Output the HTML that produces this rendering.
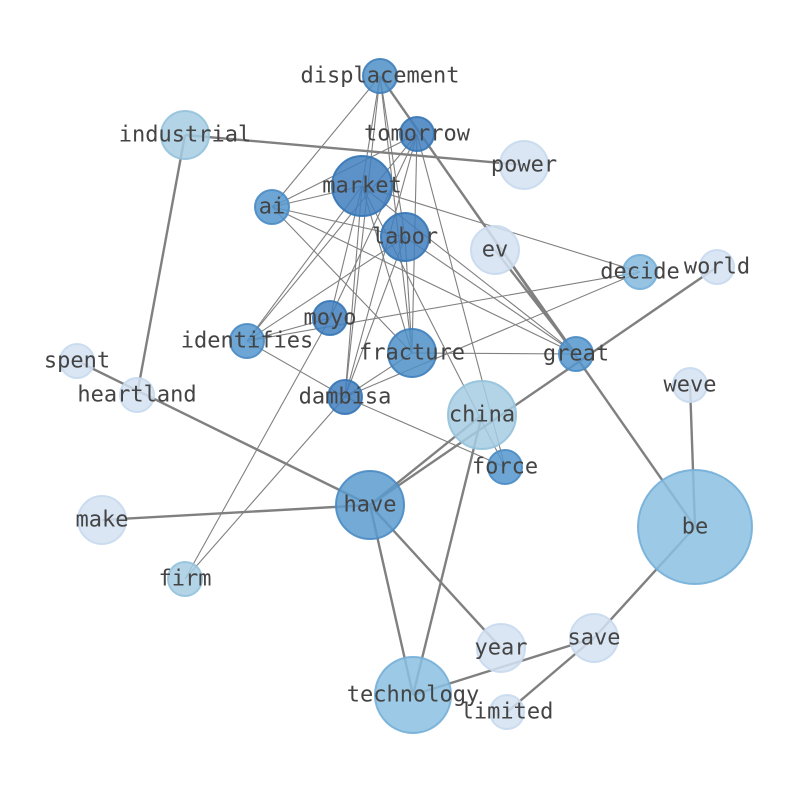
<!DOCTYPE html>
<html><head><meta charset="utf-8"><style>
html,body{margin:0;padding:0;background:#fff;}
svg{display:block}
text{font-family:"DejaVu Sans Mono","Liberation Mono",monospace;font-size:22px;fill:#444;text-anchor:middle;dominant-baseline:central}
</style></head><body>
<svg width="794" height="790" viewBox="0 0 794 790">
<g stroke="#808080" stroke-width="1.1" fill="none">
<line x1="380" y1="76" x2="272" y2="207"/><line x1="380" y1="76" x2="362" y2="186"/>
<line x1="380" y1="76" x2="405" y2="237"/><line x1="380" y1="76" x2="412" y2="353"/>
<line x1="380" y1="76" x2="576" y2="354"/><line x1="380" y1="76" x2="345" y2="397"/>
<line x1="417" y1="134" x2="272" y2="207"/><line x1="417" y1="134" x2="247" y2="341"/>
<line x1="417" y1="134" x2="345" y2="397"/><line x1="417" y1="134" x2="412" y2="353"/>
<line x1="417" y1="134" x2="330" y2="318"/><line x1="417" y1="134" x2="505" y2="467"/>
<line x1="362" y1="186" x2="272" y2="207"/><line x1="362" y1="186" x2="247" y2="341"/>
<line x1="362" y1="186" x2="345" y2="397"/><line x1="362" y1="186" x2="412" y2="353"/>
<line x1="362" y1="186" x2="576" y2="354"/><line x1="362" y1="186" x2="330" y2="318"/>
<line x1="362" y1="186" x2="640" y2="272"/><line x1="362" y1="186" x2="505" y2="467"/>
<line x1="272" y1="207" x2="405" y2="237"/><line x1="272" y1="207" x2="412" y2="353"/>
<line x1="272" y1="207" x2="576" y2="354"/>
<line x1="405" y1="237" x2="345" y2="397"/><line x1="405" y1="237" x2="412" y2="353"/>
<line x1="405" y1="237" x2="247" y2="341"/><line x1="405" y1="237" x2="576" y2="354"/>
<line x1="247" y1="341" x2="640" y2="272"/><line x1="247" y1="341" x2="330" y2="318"/>
<line x1="247" y1="341" x2="345" y2="397"/>
<line x1="345" y1="397" x2="412" y2="353"/><line x1="345" y1="397" x2="505" y2="467"/>
<line x1="345" y1="397" x2="185" y2="579"/><line x1="330" y1="318" x2="185" y2="579"/>
<line x1="345" y1="397" x2="640" y2="272"/><line x1="412" y1="353" x2="576" y2="354"/>
</g>
<g stroke="#808080" stroke-width="2.4" fill="none">
<line x1="185" y1="135" x2="524" y2="165"/><line x1="185" y1="135" x2="137" y2="395"/>
<line x1="77" y1="361" x2="370" y2="505"/><line x1="102" y1="520" x2="370" y2="505"/>
<line x1="370" y1="505" x2="482" y2="415"/><line x1="370" y1="505" x2="717" y2="267"/>
<line x1="370" y1="505" x2="501" y2="648"/><line x1="370" y1="505" x2="413" y2="695"/>
<line x1="482" y1="415" x2="413" y2="695"/><line x1="380" y1="76" x2="695" y2="527"/>
<line x1="495" y1="250" x2="576" y2="354"/><line x1="690" y1="385" x2="695" y2="527"/>
<line x1="695" y1="527" x2="594" y2="638"/><line x1="594" y1="638" x2="413" y2="695"/>
<line x1="594" y1="638" x2="507" y2="712"/>
</g>
<g stroke-width="2" fill-opacity="0.85" stroke-opacity="0.9">
<circle cx="380" cy="76" r="17" fill="#4d8fc8" stroke="#3f80bd"/>
<circle cx="417" cy="134" r="17" fill="#3f7fbe" stroke="#3575b5"/>
<circle cx="185" cy="135" r="24" fill="#a6cde3" stroke="#93c2dc"/>
<circle cx="524" cy="165" r="24" fill="#d3e2f1" stroke="#c6d9ee"/>
<circle cx="362" cy="186" r="30" fill="#3f7fbe" stroke="#3575b5"/>
<circle cx="272" cy="207" r="17" fill="#5397cc" stroke="#4a8bc4"/>
<circle cx="405" cy="237" r="24" fill="#3f7fbe" stroke="#3575b5"/>
<circle cx="495" cy="250" r="24" fill="#d3e2f1" stroke="#c6d9ee"/>
<circle cx="640" cy="272" r="17" fill="#84b9dd" stroke="#74afd8"/>
<circle cx="717" cy="267" r="17" fill="#d3e2f1" stroke="#c6d9ee"/>
<circle cx="330" cy="318" r="17" fill="#3f7fbe" stroke="#3575b5"/>
<circle cx="247" cy="341" r="17" fill="#5397cc" stroke="#4a8bc4"/>
<circle cx="412" cy="353" r="24" fill="#4d8fc8" stroke="#3f80bd"/>
<circle cx="576" cy="354" r="17" fill="#5397cc" stroke="#4a8bc4"/>
<circle cx="77" cy="361" r="17" fill="#d3e2f1" stroke="#c6d9ee"/>
<circle cx="137" cy="395" r="17" fill="#d3e2f1" stroke="#c6d9ee"/>
<circle cx="345" cy="397" r="17" fill="#3f7fbe" stroke="#3575b5"/>
<circle cx="690" cy="385" r="17" fill="#d3e2f1" stroke="#c6d9ee"/>
<circle cx="482" cy="415" r="34" fill="#a6cde3" stroke="#93c2dc"/>
<circle cx="505" cy="467" r="17" fill="#5397cc" stroke="#4a8bc4"/>
<circle cx="370" cy="505" r="34" fill="#5a9bcf" stroke="#4a8bc4"/>
<circle cx="695" cy="527" r="57" fill="#8bbfe0" stroke="#74afd8"/>
<circle cx="102" cy="520" r="24" fill="#d3e2f1" stroke="#c6d9ee"/>
<circle cx="185" cy="579" r="17" fill="#a6cde3" stroke="#93c2dc"/>
<circle cx="501" cy="648" r="24" fill="#d3e2f1" stroke="#c6d9ee"/>
<circle cx="594" cy="638" r="24" fill="#d3e2f1" stroke="#c6d9ee"/>
<circle cx="413" cy="695" r="38" fill="#8bbfe0" stroke="#74afd8"/>
<circle cx="507" cy="712" r="17" fill="#d3e2f1" stroke="#c6d9ee"/>
</g>
<text x="380" y="76">displacement</text><text x="417" y="134">tomorrow</text>
<text x="185" y="135">industrial</text><text x="524" y="165">power</text>
<text x="362" y="186">market</text><text x="272" y="207">ai</text>
<text x="405" y="237">labor</text><text x="495" y="250">ev</text>
<text x="640" y="272">decide</text><text x="717" y="267">world</text>
<text x="330" y="318">moyo</text><text x="247" y="341">identifies</text>
<text x="412" y="353">fracture</text><text x="576" y="354">great</text>
<text x="77" y="361">spent</text><text x="137" y="395">heartland</text>
<text x="345" y="397">dambisa</text><text x="690" y="385">weve</text>
<text x="482" y="415">china</text><text x="505" y="467">force</text>
<text x="370" y="505">have</text><text x="695" y="527">be</text>
<text x="102" y="520">make</text><text x="185" y="579">firm</text>
<text x="501" y="648">year</text><text x="594" y="638">save</text>
<text x="413" y="695">technology</text><text x="507" y="712">limited</text>
</svg>
</body></html>
